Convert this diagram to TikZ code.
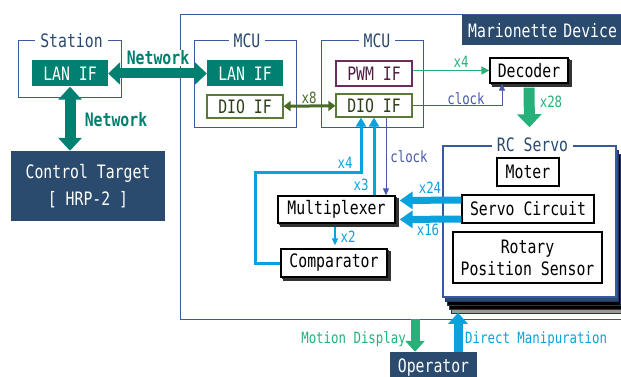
\documentclass[tikz,border=0pt]{standalone}
\usepackage{fontspec}
\usetikzlibrary{arrows.meta,shadows}
\newfontfamily\gfont[FakeStretch=0.8]{DejaVu Sans Mono}
\definecolor{navy}{HTML}{2A4A6E}
\definecolor{lanteal}{HTML}{008070}
\definecolor{frameblue}{HTML}{3A5A9E}
\definecolor{sgreen}{HTML}{26B07A}
\definecolor{scyan}{HTML}{0AA2DD}
\definecolor{clockc}{HTML}{4A58A8}
\definecolor{olive}{HTML}{5A7A3A}
\definecolor{darkolive}{HTML}{4A6A28}
\definecolor{maroon}{HTML}{6E2C5E}
\begin{document}
\begin{tikzpicture}[x=1pt,y=-1pt,font=\gfont\fontsize{18.5}{20}\selectfont]
        \tikzstyle{every node}=[inner sep=0pt]
        \tikzstyle{frame}=[draw=frameblue,line width=1pt]
        \tikzstyle{title}=[fill=white,text=navy,inner xsep=5pt]
        \tikzstyle{lanif}=[fill=lanteal,text=white,minimum width=76pt,minimum height=26pt]
        \tikzstyle{dioif}=[draw=olive,line width=1.2pt,fill=white,text=darkolive!60!black,minimum width=76pt,minimum height=23pt]
        \tikzstyle{unit}=[draw=black,line width=1.3pt,fill=white]
        \tikzstyle{stack}=[unit,double copy shadow={shadow xshift=1.5pt,shadow yshift=-1.5pt,draw=black!80,fill=black!35}]
        \tikzstyle{dark}=[fill=navy,text=white]
        \tikzstyle{lbl}=[font=\gfont\fontsize{15.5}{16}\selectfont]
        \tikzstyle{netlbl}=[font=\gfont\bfseries\fontsize{18.5}{20}\selectfont,text=lanteal,fill=white,inner sep=1pt]
        \useasboundingbox (0,0) rectangle (621,377);
        % Marionette Device
        \draw[frame] (180,15) rectangle (640,319);
        \node[dark,anchor=north west,minimum height=30pt,text width=165pt,inner xsep=6pt,align=left] (device) at (462,15) {Marionette Device};
        % Station and target
        \node[frame,minimum width=103pt,minimum height=57pt] (station) at (69.5,69.5) {};
        \node[title] (stationtitle) at ([xshift=2pt]station.north) {Station};
        \node[lanif] (stationlan) at (70,73.5) {LAN IF};
        \node[dark,minimum width=154pt,minimum height=70pt,align=center,font=\gfont\fontsize{18.5}{27}\selectfont] (target) at (88,186) {Control Target\\{[} HRP-2 ]};
        % MCUs
        \node[frame,minimum width=102pt,minimum height=87pt] (mcuA) at (245,84.5) {};
        \node[title] (mcuAtitle) at ([xshift=2pt]mcuA.north) {MCU};
        \node[lanif] (mculan) at (245,73.5) {LAN IF};
        \node[dioif] (dioA) at (245,106.5) {DIO IF};
        \node[frame,minimum width=102pt,minimum height=87pt] (mcuB) at (372,84.5) {};
        \node[title] (mcuBtitle) at ([xshift=5pt]mcuB.north) {MCU};
        \node[dioif,draw=maroon,text=maroon!70!black,minimum height=25pt] (pwm) at (374,73.5) {PWM IF};
        \node[dioif] (dioB) at (374,105.5) {DIO IF};
        \node[stack,minimum width=78pt,minimum height=25pt] (decoder) at (529,70.5) {Decoder};
        % RC Servo
        \foreach \d/\c in {4/black!40,3/black,2/black,1/navy}
            \draw[draw=frameblue!60!black,fill=\c] ({443+2*\d},{146+4*\d}) rectangle ({616+2*\d},{297+4*\d});
        \node[frame,fill=white,line width=1.5pt,minimum width=173pt,minimum height=151pt] (rc) at (529.5,221.5) {};
        \node[title] (rctitle) at ([xshift=3pt]rc.north) {RC Servo};
        \node[unit,minimum width=62pt,minimum height=28pt] (moter) at (528,172) {Moter};
        \node[unit,minimum width=132pt,minimum height=28pt] (servo) at (528,209) {Servo Circuit};
        \node[unit,minimum width=149pt,minimum height=51pt,align=center,font=\gfont\fontsize{18.5}{22}\selectfont] (sensor) at (527.5,257.5) {Rotary\\Position Sensor};
        \node[stack,minimum width=117pt,minimum height=27pt] (mux) at (336.5,209.5) {Multiplexer};
        \node[stack,minimum width=106pt,minimum height=28pt] (comp) at (334,263) {Comparator};
        \node[dark,minimum width=87pt,minimum height=32pt] (operator) at (433.5,368) {Operator};
        % connectors
        \draw[lanteal,line width=10pt,{Triangle[width=22pt,length=12pt]}-{Triangle[width=22pt,length=12pt]}] (stationlan) -- (mculan);
        \draw[lanteal,line width=11pt,{Triangle[width=23pt,length=13pt]}-{Triangle[width=23pt,length=13pt]}] (stationlan.south) -- (stationlan.south |- target.north);
        \draw[darkolive,line width=3pt,{Triangle[width=10pt,length=7pt]}-{Triangle[width=10pt,length=7pt]}] (dioA) -- (dioB);
        \draw[sgreen,line width=1.5pt,-{Triangle[width=8pt,length=8pt]}] (pwm.east |- decoder) -- (decoder.west);
        \draw[clockc,line width=1pt,-{Triangle[width=6pt,length=7pt]}] (dioB.east) -| ([xshift=-27pt]decoder.south);
        \draw[sgreen,line width=11pt,-{Triangle[width=24pt,length=13pt]}] ([yshift=-4pt]decoder.south) -- ([yshift=18pt]rc.north);
        \draw[scyan,line width=7pt,-{Triangle[width=17pt,length=13pt]}] ([yshift=9pt]servo.west) -- ([yshift=9pt,xshift=4pt]mux.east);
        \draw[scyan,line width=7pt,-{Triangle[width=17pt,length=13pt]}] ([yshift=-10pt]servo.west) -- ([yshift=-10pt,xshift=4pt]mux.east);
        \draw[scyan,line width=1.5pt,-{Triangle[width=6pt,length=7pt]}] ([xshift=-1.5pt,yshift=-3pt]mux.south) -- ([xshift=-1.5pt,yshift=3pt]mux.south |- comp.north);
        \draw[scyan,line width=3pt,-{Triangle[width=10pt,length=9pt]}] (dioB.south |- mux.north) -- (dioB.south);
        \draw[scyan,line width=3pt,-{Triangle[width=10pt,length=9pt]}] (comp.west) -| (255,172) -| ([xshift=-13pt]dioB.south);
        \draw[clockc,line width=1pt,-{Triangle[width=6pt,length=7pt]}] ([xshift=12pt]dioB.south) -- ([xshift=12pt]dioB.south |- mux.north);
        \draw[sgreen,line width=9pt,{Triangle[width=19pt,length=11pt]}-] ([xshift=-18.5pt]operator.north) -- ++(0,-33);
        \draw[scyan,line width=9pt,-{Triangle[width=19pt,length=11pt]}] ([xshift=24.5pt]operator.north) -- ++(0,-39);
        % labels
        \node[netlbl] (netA) at (158,58) {Network};
        \node[netlbl] (netB) at (116,120) {Network};
        \node[lbl,text=darkolive] (xeight) at (309,98) {x8};
        \node[lbl,text=sgreen] (xfourpwm) at (461,62) {x4};
        \node[lbl,text=clockc] (clockA) at (466,99) {clock};
        \node[lbl,text=sgreen] (xtwentyeight) at (551,102) {x28};
        \node[lbl,text=clockc] (clockB) at (409,157) {clock};
        \node[lbl,text=scyan] (xfour) at (345,163) {x4};
        \node[lbl,text=scyan] (xthree) at (361,185) {x3};
        \node[lbl,text=scyan] (xtwo) at (348,237) {x2};
        \node[lbl,text=scyan] (xtwentyfour) at (430,188) {x24};
        \node[lbl,text=scyan] (xsixteen) at (428,230) {x16};
        \node[lbl,text=sgreen,anchor=east] (motion) at (406,339) {Motion Display};
        \node[lbl,text=scyan,anchor=west] (manip) at (465,339) {Direct Manipuration};
    \end{tikzpicture}
\end{document}
